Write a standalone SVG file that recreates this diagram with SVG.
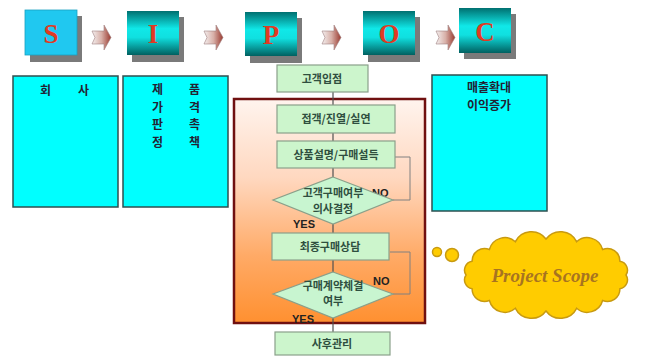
<svg xmlns="http://www.w3.org/2000/svg" width="647" height="357" viewBox="0 0 647 357">
<defs>
<linearGradient id="teal" x1="0" y1="0" x2="0" y2="1">
<stop offset="0" stop-color="#007070"/>
<stop offset="0.4" stop-color="#10E8E8"/>
<stop offset="0.6" stop-color="#10E0E0"/>
<stop offset="1" stop-color="#006060"/>
</linearGradient>
<linearGradient id="arr" x1="0" y1="0" x2="1" y2="0">
<stop offset="0" stop-color="#F4F0F0"/>
<stop offset="0.5" stop-color="#D8B0A8"/>
<stop offset="1" stop-color="#9A3A30"/>
</linearGradient>
<linearGradient id="orange" x1="0" y1="0" x2="0" y2="1">
<stop offset="0" stop-color="#FFF4EE"/>
<stop offset="0.35" stop-color="#FFD8C0"/>
<stop offset="0.7" stop-color="#FFAA66"/>
<stop offset="1" stop-color="#FF9030"/>
</linearGradient>
<path id="blk" d="M0,6 L12,6 L12,0 L19,12.5 L12,25 L12,19 L0,19 L3,12.5 Z"/>
</defs>
<style>
.shadow{fill:#7A7A7A}
.letter{font-family:"Liberation Serif",serif;font-weight:bold;font-size:27px;fill:#E03A22;text-anchor:middle}
.cyan{fill:#00FFFF;stroke:#2F4F4F;stroke-width:1.5}
.ctext{font-family:"Noto Sans CJK KR",sans-serif;font-size:12px;font-weight:bold;fill:#223}
.step{fill:#CCF5CC;stroke:#8AA08A;stroke-width:1.2}
.dia{fill:#C8F5D0;stroke:#8AA08A;stroke-width:1.2}
.stext{font-family:"Noto Sans CJK KR",sans-serif;font-size:11px;font-weight:bold;fill:#2F4F3F;text-anchor:middle}
.lbl{font-family:"Liberation Sans",sans-serif;font-size:11px;font-weight:bold;fill:#222}
.line{stroke:#505050;stroke-width:1.2;fill:none}
.loop{stroke:#808080;stroke-width:1;fill:none}
.cloud{fill:#FFCC00;stroke:#C89A10;stroke-width:1.5}
</style>
<rect width="647" height="357" fill="#FFFFFF"/>

<g id="sipoc-arrows">
<use href="#blk" x="92" y="25" fill="url(#arr)" stroke="#A08080" stroke-width="0.6"/>
<use href="#blk" x="204" y="25" fill="url(#arr)" stroke="#A08080" stroke-width="0.6"/>
<use href="#blk" x="322" y="25" fill="url(#arr)" stroke="#A08080" stroke-width="0.6"/>
<use href="#blk" x="436" y="25" fill="url(#arr)" stroke="#A08080" stroke-width="0.6"/>
</g>

<g id="S">
<rect class="shadow" x="30" y="16" width="52" height="46"/>
<rect x="25" y="10" width="52" height="45" fill="#20C8F0" stroke="#1AA0C0" stroke-width="0.8"/>
<text class="letter" x="51" y="43">S</text>
</g>
<g id="I">
<rect class="shadow" x="132" y="17" width="52" height="45"/>
<rect x="127" y="11" width="52" height="44" fill="url(#teal)"/>
<text class="letter" x="153" y="43">I</text>
</g>
<g id="P">
<rect class="shadow" x="250" y="18" width="52" height="45"/>
<rect x="245" y="12" width="52" height="44" fill="url(#teal)"/>
<text class="letter" x="271" y="44">P</text>
</g>
<g id="O">
<rect class="shadow" x="368" y="17" width="52" height="45"/>
<rect x="363" y="11" width="52" height="44" fill="url(#teal)"/>
<text class="letter" x="389" y="43">O</text>
</g>
<g id="C">
<rect class="shadow" x="464" y="14" width="52" height="45"/>
<rect x="459" y="8" width="52" height="45" fill="url(#teal)"/>
<text class="letter" x="485" y="41">C</text>
</g>

<g id="supplier-box">
<rect class="cyan" x="13" y="76" width="105" height="131"/>
<text class="ctext" x="40 78" y="95">회사</text>
</g>
<g id="input-box">
<rect class="cyan" x="123" y="76" width="105" height="131"/>
<text class="ctext" x="152 189" y="94">제품</text>
<text class="ctext" x="152 189" y="111.5">가격</text>
<text class="ctext" x="152 189" y="129">판촉</text>
<text class="ctext" x="152 189" y="146.5">정책</text>
</g>
<g id="output-box">
<rect class="cyan" x="432" y="75" width="115" height="136"/>
<text class="ctext" x="489" y="92" text-anchor="middle" font-size="12.5">매출확대</text>
<text class="ctext" x="489" y="110" text-anchor="middle" font-size="12.5">이익증가</text>
</g>

<g id="scope-frame">
<rect x="234" y="99" width="191" height="224" fill="url(#orange)" stroke="#701010" stroke-width="2.5"/>
</g>

<g id="connectors">
<line class="line" x1="333" y1="92" x2="333" y2="105"/>
<line class="line" x1="333" y1="133" x2="333" y2="141"/>
<line class="line" x1="333" y1="168" x2="333" y2="177"/>
<line class="line" x1="333" y1="224" x2="333" y2="233"/>
<line class="line" x1="333" y1="260" x2="333" y2="272"/>
<line class="line" x1="333" y1="318" x2="333" y2="332"/>
<polyline class="loop" points="395,157 410,157 410,200 393,200"/>
<polyline class="loop" points="390,252 410,252 410,294 393,294"/>
<text class="lbl" x="372" y="197">NO</text>
<text class="lbl" x="293" y="228">YES</text>
<text class="lbl" x="373" y="285">NO</text>
<text class="lbl" x="292" y="323">YES</text>
</g>

<g id="step-entry">
<rect class="step" x="277" y="65" width="91" height="27"/>
<text class="stext" x="322" y="83">고객입점</text>
</g>
<g id="step-greet">
<rect class="step" x="277" y="105" width="118" height="28"/>
<text class="stext" x="336" y="123">접객/진열/실연</text>
</g>
<g id="step-explain">
<rect class="step" x="277" y="141" width="118" height="27"/>
<text class="stext" x="336" y="159">상품설명/구매설득</text>
</g>
<g id="decision-1">
<polygon class="dia" points="333,177 393,200 333,224 273,200"/>
<text class="stext" x="333" y="197" font-weight="normal">고객구매여부</text>
<text class="stext" x="333" y="213" font-weight="normal">의사결정</text>
</g>
<g id="step-consult">
<rect class="step" x="272" y="233" width="117" height="27"/>
<text class="stext" x="330" y="251" font-weight="normal">최종구매상담</text>
</g>
<g id="decision-2">
<polygon class="dia" points="333,272 393,294 333,318 273,294"/>
<text class="stext" x="333" y="290" font-weight="normal">구매계약체결</text>
<text class="stext" x="333" y="305" font-weight="normal">여부</text>
</g>
<g id="step-aftercare">
<rect class="step" x="275" y="332" width="115" height="23"/>
<text class="stext" x="332" y="348">사후관리</text>
</g>

<g id="project-scope">
<circle class="cloud" cx="437" cy="252" r="4.5"/>
<circle class="cloud" cx="452" cy="255" r="6.5"/>
<path class="cloud" d="M626,275 A9,9 0 0 1 619.9,288.8 A12.5,12.5 0 0 1 602.6,300.5 A16,16 0 0 1 576.6,308.3 A18,18 0 0 1 546,311 A18,18 0 0 1 515.4,308.3 A16,16 0 0 1 489.4,300.5 A12.5,12.5 0 0 1 472.1,288.8 A9,9 0 0 1 466,275 A9,9 0 0 1 472.1,261.2 A12.5,12.5 0 0 1 489.4,249.5 A16,16 0 0 1 515.4,241.7 A18,18 0 0 1 546,239 A18,18 0 0 1 576.6,241.7 A16,16 0 0 1 602.6,249.5 A12.5,12.5 0 0 1 619.9,261.2 A9,9 0 0 1 626,275 Z"/>
<text x="545" y="282" text-anchor="middle" font-family="Liberation Serif,serif" font-style="italic" font-weight="bold" font-size="19" fill="#A87420">Project Scope</text>
</g>
</svg>
